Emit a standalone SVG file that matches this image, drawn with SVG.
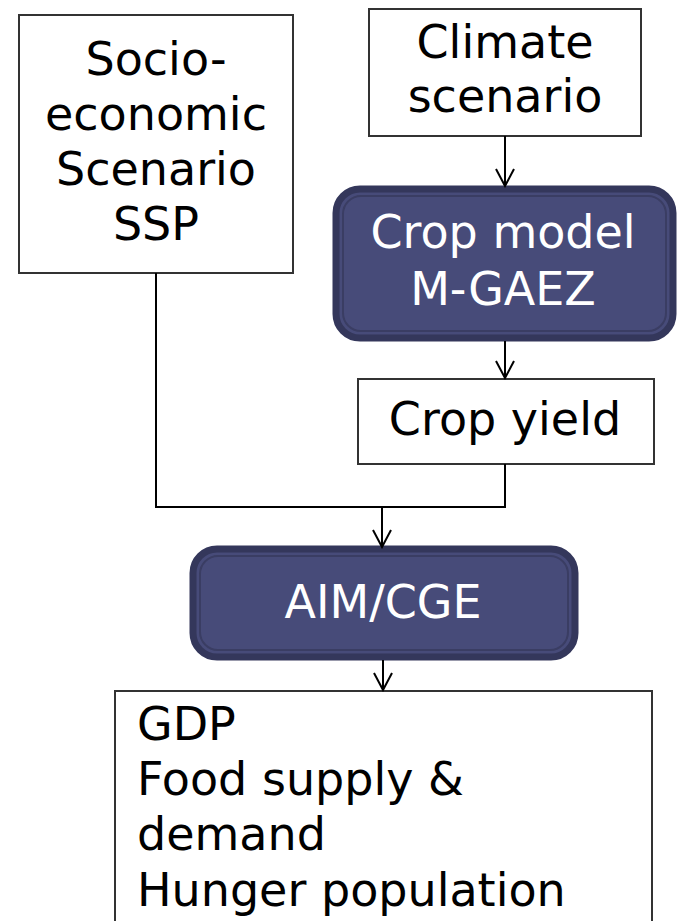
<svg xmlns="http://www.w3.org/2000/svg" width="677" height="921" viewBox="0 0 677 921">
<style>
.box{fill:#fff;stroke:#333;stroke-width:2}
.t{font-family:"DejaVu Sans",sans-serif;font-size:46px;fill:#000}
.w{font-family:"DejaVu Sans",sans-serif;font-size:46px;fill:#fff}
.dark{fill:#474b79;stroke:#34375b;stroke-width:7}
.inner{fill:none;stroke:#3a3d63;stroke-width:2}
.c{fill:none;stroke:#000;stroke-width:2}
</style>
<defs>
<marker id="a" markerWidth="24" markerHeight="24" refX="22" refY="12" orient="auto" markerUnits="userSpaceOnUse" viewBox="0 0 24 24">
<path d="M5,3 L22,12 L5,21" fill="none" stroke="#000" stroke-width="2"/>
</marker>
</defs>
<rect width="677" height="921" fill="#fff"/>
<g id="socio">
<rect class="box" x="19" y="15" width="274" height="258"/>
<text class="t" text-anchor="middle" x="156" y="75">Socio-</text>
<text class="t" text-anchor="middle" x="156" y="130">economic</text>
<text class="t" text-anchor="middle" x="156" y="185">Scenario</text>
<text class="t" text-anchor="middle" x="156" y="240">SSP</text>
</g>
<g id="climate">
<rect class="box" x="369" y="9" width="272" height="127"/>
<text class="t" text-anchor="middle" x="505" y="58">Climate</text>
<text class="t" text-anchor="middle" x="505" y="112">scenario</text>
</g>
<g id="cropmodel">
<rect class="dark" x="336" y="189" width="337" height="149" rx="24"/>
<rect class="inner" x="343" y="196" width="323" height="135" rx="18"/>
<text class="w" text-anchor="middle" x="503" y="248">Crop model</text>
<text class="w" text-anchor="middle" x="503" y="305">M-GAEZ</text>
</g>
<g id="cropyield">
<rect class="box" x="358" y="379" width="296" height="85"/>
<text class="t" text-anchor="middle" x="505" y="435">Crop yield</text>
</g>
<g id="aimcge">
<rect class="dark" x="193" y="549" width="382" height="108" rx="24"/>
<rect class="inner" x="200" y="556" width="368" height="94" rx="18"/>
<text class="w" text-anchor="middle" x="383" y="618">AIM/CGE</text>
</g>
<g id="output">
<rect class="box" x="115" y="691" width="537" height="240"/>
<text class="t" x="137" y="740">GDP</text>
<text class="t" x="137" y="795">Food supply &amp;</text>
<text class="t" x="137" y="850">demand</text>
<text class="t" x="137" y="906">Hunger population</text>
</g>
<g id="connectors">
<path class="c" d="M505,136 V186" marker-end="url(#a)"/>
<path class="c" d="M505,341 V378" marker-end="url(#a)"/>
<path class="c" d="M156,273 V507 H505 V464"/>
<path class="c" d="M382,507 V547" marker-end="url(#a)"/>
<path class="c" d="M383,660 V690" marker-end="url(#a)"/>
</g>
</svg>
